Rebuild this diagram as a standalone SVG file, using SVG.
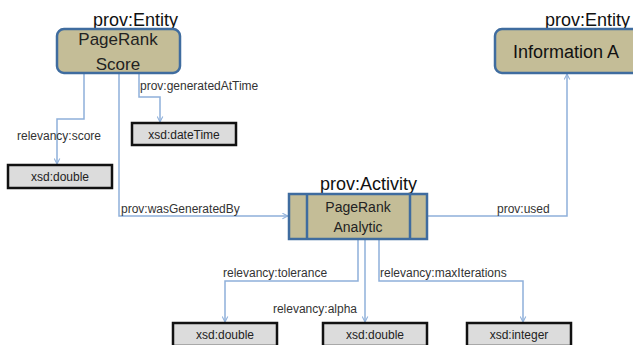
<svg xmlns="http://www.w3.org/2000/svg" width="633" height="345" viewBox="0 0 633 345">
<style>
.ent{fill:#c4bd97;stroke:#3f6c9f;stroke-width:2.5}
.act{fill:#c4bd97;stroke:#3f6c9f;stroke-width:2.5}
.lit{fill:#dcdcdc;stroke:#111;stroke-width:2.5}
.cn{fill:none;stroke:#8fb0da;stroke-width:1.5}
.big{font-family:"Liberation Sans",Arial,sans-serif;font-size:18px;fill:#111}
.mid{font-family:"Liberation Sans",Arial,sans-serif;font-size:17px;fill:#222;text-anchor:middle}
.act-t{font-family:"Liberation Sans",Arial,sans-serif;font-size:14px;fill:#222;text-anchor:middle}
.lbl{font-family:"Liberation Sans",Arial,sans-serif;font-size:12px;fill:#333}
.lt{font-family:"Liberation Sans",Arial,sans-serif;font-size:12px;fill:#222;text-anchor:middle}
</style>
<defs>
<marker id="arr" viewBox="0 0 10 10" refX="9" refY="5" markerWidth="7" markerHeight="7" orient="auto" markerUnits="userSpaceOnUse">
<path d="M1,1 L9,5 L1,9" fill="none" stroke="#8fb0da" stroke-width="1.5"/>
</marker>
</defs>
<g id="connectors">
<path class="cn" d="M84,73 V119 H57 V164" marker-end="url(#arr)"/>
<path class="cn" d="M119,73 V216 H288" marker-end="url(#arr)"/>
<path class="cn" d="M139,73 V97 H160 V122" marker-end="url(#arr)"/>
<path class="cn" d="M427,216 H567 V74" marker-end="url(#arr)"/>
<path class="cn" d="M358,239 V281 H225 V322" marker-end="url(#arr)"/>
<path class="cn" d="M365,239 V322" marker-end="url(#arr)"/>
<path class="cn" d="M379,239 V281 H523 V322" marker-end="url(#arr)"/>
<text class="lbl" x="17" y="140">relevancy:score</text>
<text class="lbl" x="140" y="90">prov:generatedAtTime</text>
<text class="lbl" x="121" y="213">prov:wasGeneratedBy</text>
<text class="lbl" x="497" y="213">prov:used</text>
<text class="lbl" x="223" y="277">relevancy:tolerance</text>
<text class="lbl" x="357" y="313" text-anchor="end">relevancy:alpha</text>
<text class="lbl" x="380" y="277">relevancy:maxIterations</text>
</g>
<g id="pagerank-score">
<text class="big" x="93" y="26">prov:Entity</text>
<rect class="ent" x="57" y="29" width="123" height="44" rx="7"/>
<text class="mid" x="118" y="45">PageRank</text>
<text class="mid" x="118" y="70">Score</text>
</g>
<g id="information-a">
<text class="big" x="545" y="26">prov:Entity</text>
<rect class="ent" x="495" y="29" width="150" height="44" rx="7"/>
<text class="big" x="566" y="58" text-anchor="middle">Information A</text>
</g>
<g id="pagerank-analytic">
<text class="big" x="320" y="190">prov:Activity</text>
<rect class="act" x="289" y="194" width="138" height="45"/>
<line x1="307" y1="194" x2="307" y2="239" stroke="#3f6c9f" stroke-width="2.5"/>
<line x1="410" y1="194" x2="410" y2="239" stroke="#3f6c9f" stroke-width="2.5"/>
<text class="act-t" x="358" y="212">PageRank</text>
<text class="act-t" x="358" y="232">Analytic</text>
</g>
<g id="xsd-double-score">
<rect class="lit" x="8" y="165" width="104" height="23"/>
<text class="lt" x="60" y="181">xsd:double</text>
</g>
<g id="xsd-datetime">
<rect class="lit" x="132" y="123" width="104" height="22"/>
<text class="lt" x="184" y="139">xsd:dateTime</text>
</g>
<g id="xsd-double-tolerance">
<rect class="lit" x="173" y="323" width="104" height="23"/>
<text class="lt" x="225" y="339">xsd:double</text>
</g>
<g id="xsd-double-alpha">
<rect class="lit" x="323" y="323" width="104" height="23"/>
<text class="lt" x="375" y="339">xsd:double</text>
</g>
<g id="xsd-integer">
<rect class="lit" x="467" y="323" width="104" height="23"/>
<text class="lt" x="519" y="339">xsd:integer</text>
</g>
</svg>
